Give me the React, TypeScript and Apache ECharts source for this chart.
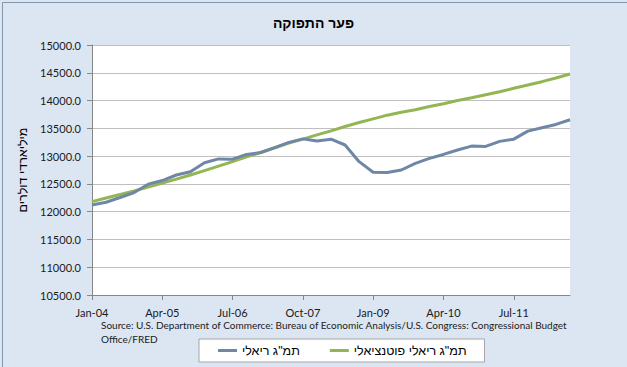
import React, { useEffect, useRef } from "react";
import * as echarts from "echarts";

const quarters: string[] = [
  "Jan-04", "Apr-04", "Jul-04", "Oct-04",
  "Jan-05", "Apr-05", "Jul-05", "Oct-05",
  "Jan-06", "Apr-06", "Jul-06", "Oct-06",
  "Jan-07", "Apr-07", "Jul-07", "Oct-07",
  "Jan-08", "Apr-08", "Jul-08", "Oct-08",
  "Jan-09", "Apr-09", "Jul-09", "Oct-09",
  "Jan-10", "Apr-10", "Jul-10", "Oct-10",
  "Jan-11", "Apr-11", "Jul-11", "Oct-11",
  "Jan-12", "Apr-12", "Jul-12",
];

const realGdp: number[] = [
  12120, 12170, 12255, 12345, 12495, 12560, 12660, 12720, 12880, 12950,
  12945, 13030, 13065, 13152, 13248, 13310, 13272, 13305, 13200, 12900,
  12710, 12705, 12750, 12870, 12960, 13030, 13110, 13180, 13175, 13265,
  13305, 13450, 13510, 13570, 13655,
];

const potentialGdp: number[] = [
  12180, 12245, 12310, 12375, 12445, 12515, 12585, 12660, 12740, 12820,
  12900, 12985, 13065, 13150, 13233, 13305, 13383, 13455, 13532, 13604,
  13671, 13737, 13791, 13833, 13892, 13941, 14000, 14050, 14105, 14160,
  14220, 14280, 14340, 14405, 14478,
];

const seriesNames: string[] = ['תמ"ג ריאלי', 'תמ"ג ריאלי פוטנציאלי'];
const titleText = "פער התפוקה";
const yAxisName = "מיליארדי דולרים";
const sourceLines: string[] = [
  "Source: U.S. Department of Commerce: Bureau of Economic Analysis/U.S. Congress: Congressional Budget",
  "Office/FRED",
];

const HEB = "'Liberation Sans', Arial, sans-serif";
const LAT = "Lato, 'Open Sans', sans-serif";

export default function App() {
  const ref = useRef<HTMLDivElement>(null);
  useEffect(() => {
    if (!ref.current) return;
    const chart = echarts.init(ref.current, undefined, { renderer: "svg" });
    chart.setOption({
      animation: false,
      backgroundColor: "#dce6f2",
      title: {
        text: titleText,
        left: "center",
        top: 11,
        textStyle: { fontFamily: HEB, fontSize: 14, fontWeight: "bold", color: "#000" },
      },
      grid: {
        left: 92,
        right: 57,
        top: 45,
        bottom: 72,
        show: true,
        backgroundColor: "#ffffff",
        borderWidth: 0,
      },
      legend: {
        data: seriesNames,
        left: 199,
        top: 339,
        padding: [5, 18, 5, 19],
        itemGap: 30,
        itemWidth: 19,
        itemHeight: 3,
        icon: "rect",
        backgroundColor: "#ffffff",
        borderColor: "#a6a6a6",
        borderWidth: 1,
        textStyle: { fontFamily: HEB, fontSize: 12.5, color: "#000" },
      },
      xAxis: {
        type: "category",
        data: quarters,
        boundaryGap: false,
        axisLine: { lineStyle: { color: "#868686", width: 1 } },
        axisTick: { show: true, interval: 4, length: 5, lineStyle: { color: "#868686" } },
        axisLabel: {
          interval: 4,
          margin: 12,
          fontFamily: LAT,
          fontSize: 11,
          color: "#1a1a1a",
        },
        splitLine: { show: false },
      },
      yAxis: {
        type: "value",
        min: 10500,
        max: 15000,
        interval: 500,
        name: yAxisName,
        nameLocation: "middle",
        nameGap: 60,
        nameRotate: 90,
        nameTextStyle: { fontFamily: HEB, fontSize: 12.5, color: "#000" },
        axisLine: { show: true, lineStyle: { color: "#868686", width: 1 } },
        axisTick: { show: true, length: 5, lineStyle: { color: "#868686" } },
        axisLabel: {
          margin: 11,
          fontFamily: LAT,
          fontSize: 11,
          color: "#1a1a1a",
          formatter: (v: number) => v.toFixed(1),
        },
        splitLine: { show: true, lineStyle: { color: "#bfbfbf", width: 1 } },
      },
      series: [
        {
          name: seriesNames[0],
          type: "line",
          data: realGdp,
          showSymbol: false,
          symbol: "none",
          lineStyle: { color: "#6f87a6", width: 3 },
          itemStyle: { color: "#6f87a6" },
          z: 3,
        },
        {
          name: seriesNames[1],
          type: "line",
          data: potentialGdp,
          showSymbol: false,
          symbol: "none",
          lineStyle: { color: "#93b553", width: 3 },
          itemStyle: { color: "#93b553" },
          z: 2,
        },
      ],
      graphic: [
        {
          type: "rect",
          left: 0,
          top: 0,
          shape: { x: 0.5, y: 0.5, width: 626, height: 366 },
          style: { fill: "none", stroke: "#8496a9", lineWidth: 1 },
          silent: true,
        },
        {
          type: "text",
          left: 101,
          top: 320,
          style: {
            text: sourceLines[0],
            fontFamily: LAT,
            fontSize: 10,
            fill: "#1a1a1a",
          },
        },
        {
          type: "text",
          left: 101,
          top: 334,
          style: {
            text: sourceLines[1],
            fontFamily: LAT,
            fontSize: 10,
            fill: "#1a1a1a",
          },
        },
      ],
    });
    return () => chart.dispose();
  }, []);
  return (
    <div
      ref={ref}
      style={{ position: "fixed", left: 0, top: 0, width: 627, height: 367 }}
    />
  );
}
